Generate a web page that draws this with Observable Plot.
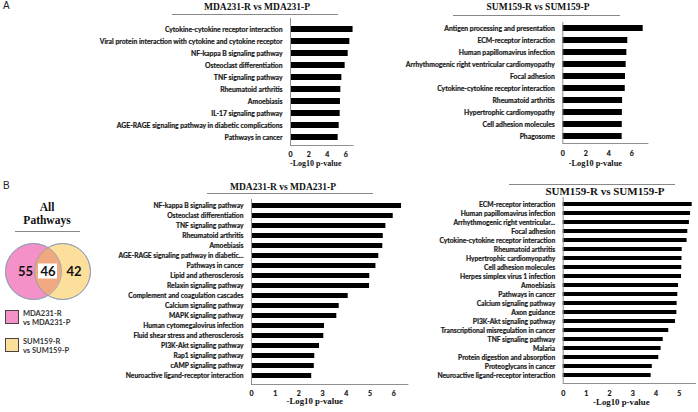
<!DOCTYPE html>
<html><head><meta charset="utf-8">
<script src="https://cdn.jsdelivr.net/npm/d3@7"></script>
<script src="https://cdn.jsdelivr.net/npm/@observablehq/plot@0.6"></script>
<style>
body{margin:0;background:#fff;}
#root{position:relative;width:698px;height:412px;overflow:hidden;font-family:Lato,"Open Sans",sans-serif;}
.ttl{position:absolute;font-family:"Liberation Serif","Times New Roman",serif;font-weight:bold;white-space:nowrap;transform:translate(-50%,-50%);color:#111;line-height:1;}
.uline{position:absolute;height:0;border-top:1px solid #888;}
.plab{position:absolute;font-family:"Liberation Sans",Arial,sans-serif;font-size:10px;color:#222;}
.leg{position:absolute;font-family:Lato,sans-serif;font-weight:bold;font-size:7.5px;line-height:9px;color:#333;white-space:nowrap;}
.sw{position:absolute;width:12px;height:12px;border:1px solid #444;}
#root svg g[aria-label="y-axis tick label"] text, #root svg g[aria-label="x-axis tick label"] text{stroke:#1a1a1a;stroke-width:0.2px;}
</style></head><body><div id="root"></div>
<script>
// ---------- data ----------
const aLeftTitle = "MDA231-R vs MDA231-P";
const aLeftCats = ["Cytokine-cytokine receptor interaction","Viral protein interaction with cytokine and cytokine receptor","NF-kappa B signaling pathway","Osteoclast differentiation","TNF signaling pathway","Rheumatoid arthritis","Amoebiasis","IL-17 signaling pathway","AGE-RAGE signaling pathway in diabetic complications","Pathways in cancer"];
const aLeftVals = [6.8,6.45,6.27,5.94,5.58,5.47,5.43,5.40,5.29,5.18];
const aLeftTicks = [0,2,4,6];

const aRightTitle = "SUM159-R vs SUM159-P";
const aRightCats = ["Antigen processing and presentation","ECM-receptor interaction","Human papillomavirus infection","Arrhythmogenic right ventricular cardiomyopathy","Focal adhesion","Cytokine-cytokine receptor interaction","Rheumatoid arthritis","Hypertrophic cardiomyopathy","Cell adhesion molecules","Phagosome"];
const aRightVals = [6.99,5.65,5.57,5.51,5.45,5.43,5.20,5.18,5.17,5.16];
const aRightTicks = [0,2,4,6];

const bLeftTitle = "MDA231-R vs MDA231-P";
const bLeftCats = ["NF-kappa B signaling pathway","Osteoclast differentiation","TNF signaling pathway","Rheumatoid arthritis","Amoebiasis","AGE-RAGE signaling pathway in diabetic...","Pathways in cancer","Lipid and atherosclerosis","Relaxin signaling pathway","Complement and coagulation cascades","Calcium signaling pathway","MAPK signaling pathway","Human cytomegalovirus infection","Fluid shear stress and atherosclerosis","PI3K-Akt signaling pathway","Rap1 signaling pathway","cAMP signaling pathway","Neuroactive ligand-receptor interaction"];
const bLeftVals = [6.33,5.98,5.67,5.56,5.54,5.37,5.25,4.99,4.98,4.08,3.70,3.60,3.08,3.05,2.87,2.67,2.65,2.54];
const bLeftTicks = [0,1,2,3,4,5,6];

const bRightTitle = "SUM159-R vs SUM159-P";
const bRightCats = ["ECM-receptor interaction","Human papillomavirus infection","Arrhythmogenic right ventricular...","Focal adhesion","Cytokine-cytokine receptor interaction","Rheumatoid arthritis","Hypertrophic cardiomyopathy","Cell adhesion molecules","Herpes simplex virus 1 infection","Amoebiasis","Pathways in cancer","Calcium signaling pathway","Axon guidance","PI3K-Akt signaling pathway","Transcriptional misregulation in cancer","TNF signaling pathway","Malaria","Protein digestion and absorption","Proteoglycans in cancer","Neuroactive ligand-receptor interaction"];
const bRightVals = [5.56,5.49,5.44,5.37,5.34,5.13,5.12,5.11,5.10,4.97,4.94,4.91,4.90,4.84,4.55,4.31,4.22,4.12,3.84,3.79];
const bRightTicks = [0,1,2,3,4,5];

const xAxisLabel = "-Log10 p-value";
const vennTitle = ["All", "Pathways"];
const vennSets = ["MDA231-R vs MDA231-P", "SUM159-R vs SUM159-P"];
const vennLegend = [["MDA231-R", "vs MDA231-P"], ["SUM159-R", "vs SUM159-P"]];
const vennCounts = [55, 46, 42]; // only set 1, shared, only set 2
const vennColors = ["#F591C9", "#FDDF9C"];
const vennOverlapColor = "#EFA880";

// ---------- layout ----------
const root = document.getElementById("root");
function addDiv(cls, text, css) {
  const d = document.createElement("div");
  d.className = cls;
  if (text != null) d.textContent = text;
  Object.assign(d.style, css);
  root.appendChild(d);
  return d;
}

function barChart(o) {
  const data = o.cats.map((c, i) => ({c, v: o.vals[i]}));
  const n = o.cats.length;
  const s = (o.c1 - o.c0) / (n - 1);
  const pin = 1 - o.barH / s;
  const svg = Plot.plot({
    width: o.width, height: o.height,
    marginLeft: o.x0 - o.left,
    marginRight: o.left + o.width - (o.x0 + o.xMax * o.ppu),
    marginTop: o.frameTop - o.top,
    marginBottom: o.top + o.height - o.frameBottom,
    style: {background: "transparent", fontFamily: "Lato, 'Open Sans', sans-serif", color: "#1a1a1a", overflow: "visible"},
    x: {domain: [0, o.xMax]},
    y: {domain: o.cats, range: [o.c0 - s / 2 - o.top, o.c1 + s / 2 - o.top], paddingInner: pin, paddingOuter: pin / 2},
    marks: [
      Plot.barX(data, {x: "v", y: "c", fill: "#000"}),
      Plot.ruleX([0], {stroke: "#8f8f8f"}),
      Plot.frame({anchor: "bottom", stroke: "#8f8f8f"}),
      Plot.axisY({tickSize: 0, tickPadding: 8, label: null, fontSize: o.labelSize, fontWeight: "bold"}),
      Plot.axisX({ticks: o.ticks, tickSize: 0, tickPadding: o.tickPad, label: null, fontSize: 7, fontWeight: "bold", tickFormat: d3.format("d")}),
      Plot.text([xAxisLabel], {text: d => d, frameAnchor: "bottom", dx: o.tDx, dy: o.tDy, fontFamily: "'Liberation Serif', serif", fontWeight: "bold", fontSize: o.tSize, fill: "#111"})
    ]
  });
  Object.assign(svg.style, {position: "absolute", left: o.left + "px", top: o.top + "px"});
  root.appendChild(svg);
}

// Panel labels
addDiv("plab", "A", {left: "3px", top: "0px"});
addDiv("plab", "B", {left: "3px", top: "180px"});

// Panel A
addDiv("ttl", aLeftTitle, {left: "257px", top: "8px", fontSize: "9.5px"});
addDiv("uline", null, {left: "172px", top: "14px", width: "166px"});
barChart({cats: aLeftCats, vals: aLeftVals, ticks: aLeftTicks, left: 0, top: 0, width: 360, height: 178,
  x0: 290, ppu: 9.2, xMax: 6.8, frameTop: 18, frameBottom: 145, c0: 25, c1: 140, barH: 6,
  labelSize: 6.8, tickPad: 7, tDx: -6, tDy: 20, tSize: 8});

addDiv("ttl", aRightTitle, {left: "538px", top: "8px", fontSize: "9.5px"});
addDiv("uline", null, {left: "453px", top: "15px", width: "167px"});
barChart({cats: aRightCats, vals: aRightVals, ticks: aRightTicks, left: 360, top: 0, width: 338, height: 178,
  x0: 562.3, ppu: 11.5, xMax: 7.4, frameTop: 22, frameBottom: 143, c0: 26.7, c1: 137.3, barH: 6,
  labelSize: 6.8, tickPad: 7.5, tDx: -10, tDy: 22, tSize: 8.3});

// Panel B
addDiv("ttl", bLeftTitle, {left: "283px", top: "188px", fontSize: "9.5px"});
addDiv("uline", null, {left: "207px", top: "193px", width: "166px"});
barChart({cats: bLeftCats, vals: bLeftVals, ticks: bLeftTicks, left: 100, top: 182, width: 320, height: 230,
  x0: 251, ppu: 23.7, xMax: 6.6, frameTop: 199, frameBottom: 384, c0: 202.3, c1: 377.7, barH: 5,
  labelSize: 6.7, tickPad: 6.5, tDx: -15, tDy: 19, tSize: 8.8});

addDiv("uline", null, {left: "509px", top: "184px", width: "166px"});
addDiv("ttl", bRightTitle, {left: "605px", top: "191px", fontSize: "11px"});
barChart({cats: bRightCats, vals: bRightVals, ticks: bRightTicks, left: 415, top: 182, width: 283, height: 230,
  x0: 562.7, ppu: 23.2, xMax: 5.7, frameTop: 197, frameBottom: 383, c0: 201, c1: 378.7, barH: 4.6,
  labelSize: 6.7, tickPad: 7.5, tDx: -8, tDy: 21, tSize: 8.8});

// Venn title
addDiv("ttl", vennTitle[0], {left: "47px", top: "208px", fontSize: "11.5px"});
addDiv("ttl", vennTitle[1], {left: "47px", top: "221px", fontSize: "11.5px"});
addDiv("uline", null, {left: "15px", top: "231px", width: "65px"});

// Venn diagram
(function () {
  const W = 100, H = 72, r = 28, cy = 36;
  const centers = [{set: vennSets[0], x: 33, y: cy, fill: vennColors[0]}, {set: vennSets[1], x: 62, y: cy, fill: vennColors[1]}];
  const xa = centers[0].x, xb = centers[1].x;
  const h = Math.sqrt(r * r - ((xb - xa) / 2) ** 2);
  const lens = d3.range(-h, h + 0.01, h / 60).map(t => ({y: cy + t, x1: xb - Math.sqrt(Math.max(0, r * r - t * t)), x2: xa + Math.sqrt(Math.max(0, r * r - t * t))}));
  const mid = (xa + xb) / 2;
  const labels = [
    {x: xa - 8, y: cy, n: vennCounts[0]},
    {x: mid, y: cy, n: vennCounts[1]},
    {x: xb + 11.5, y: cy, n: vennCounts[2]}
  ];
  const svg = Plot.plot({
    width: W, height: H, margin: 0,
    style: {background: "transparent", overflow: "visible"},
    x: {domain: [0, W], range: [0, W], axis: null},
    y: {domain: [0, H], range: [0, H], axis: null},
    marks: [
      Plot.dot(centers, {x: "x", y: "y", r: r, fill: "fill", stroke: "#8d9ab2", strokeWidth: 0.8}),
      Plot.areaX(lens, {y: "y", x1: "x1", x2: "x2", fill: vennOverlapColor}),
      Plot.dot(centers, {x: "x", y: "y", r: r, fill: "none", stroke: "#8d9ab2", strokeWidth: 0.8}),
      Plot.rect([labels[1]], {x1: d => d.x - 9.5, x2: d => d.x + 9.5, y1: d => d.y - 7.5, y2: d => d.y + 7.5, fill: "#fff"}),
      Plot.text(labels, {x: "x", y: "y", text: "n", fontSize: 13, fontWeight: "bold", fontFamily: "Lato, sans-serif", fill: "#111"})
    ]
  });
  Object.assign(svg.style, {position: "absolute", left: "0px", top: "235px"});
  root.appendChild(svg);
})();

// Venn legend
vennLegend.forEach((lines, i) => {
  const top = 310 + i * 28;
  addDiv("sw", null, {left: "5px", top: top + "px", background: vennColors[i]});
  addDiv("leg", lines[0], {left: "23px", top: (top - 1.5) + "px"});
  addDiv("leg", lines[1], {left: "23px", top: (top + 7.5) + "px"});
});
</script>
</body></html>
